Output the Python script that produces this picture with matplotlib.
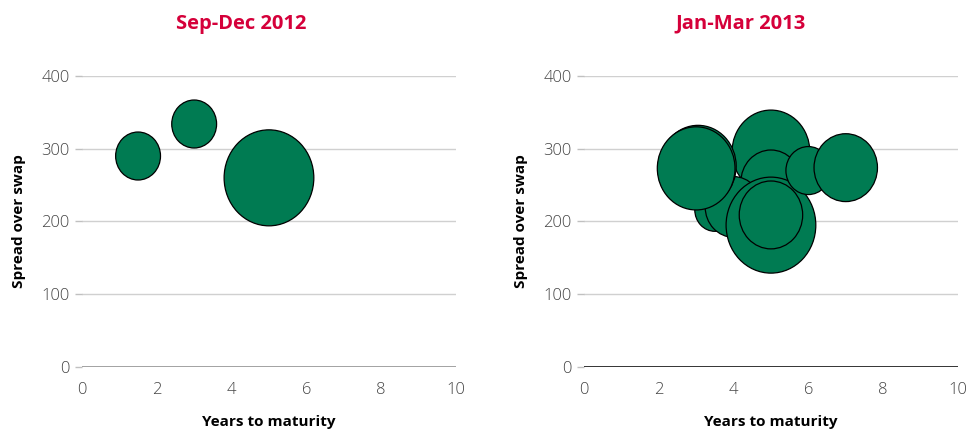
import numpy as np
import matplotlib
matplotlib.use("Agg")
import matplotlib.pyplot as plt
from matplotlib.path import Path
from matplotlib.markers import MarkerStyle

plt.rcParams['font.family'] = ['Open Sans', 'DejaVu Sans']

# Sep-Dec 2012 issues
x_2012 = [1.5, 3.0, 5.0]
y_2012 = [290, 334, 260]
size_2012 = [0.5, 0.5, 2.0]

# Jan-Mar 2013 issues (listed in drawing order)
x_2013 = [5.0, 5.0, 3.5, 4.0, 3.05, 3.0, 5.0, 5.0, 6.0, 7.0]
y_2013 = [296, 254, 216, 220, 276, 273, 195, 209, 270, 274]
size_2013 = [1.5, 0.9, 0.4, 0.8, 1.45, 1.5, 2.0, 1.0, 0.5, 1.0]

titles = ["Sep-Dec 2012", "Jan-Mar 2013"]
x_ticks = [0, 2, 4, 6, 8, 10]
y_ticks = [0, 100, 200, 300, 400]

green = "#007B52"
red = "#D5003A"
grey_text = "#454545"

# slightly tall circle used as bubble marker
circ = Path.unit_circle()
bubble = MarkerStyle(Path(circ.vertices * [1.0, 1.07], circ.codes))

max_r = 48 * 0.72  # radius of biggest bubble in points


def bubble_s(sizes):
    sizes = np.asarray(sizes, dtype=float)
    return (2 * max_r) ** 2 * sizes / sizes.max()


fig = plt.figure(figsize=(9.77, 4.32), dpi=100)
ax1 = fig.add_axes([0.0839, 0.1505, 0.3828, 0.6736])
ax2 = fig.add_axes([0.5977, 0.1505, 0.3828, 0.6736])

data = [(x_2012, y_2012, size_2012), (x_2013, y_2013, size_2013)]
base_colors = ["#8c8c8c", "black"]

for ax, (xs, ys, ss), title, bc in zip([ax1, ax2], data, titles, base_colors):
    ax.scatter(xs, ys, s=bubble_s(ss), marker=bubble, c=green,
               edgecolors="black", linewidths=0.9, zorder=3)
    ax.set_xlim(0, 10)
    ax.set_ylim(0, 400)
    ax.set_xticks(x_ticks)
    ax.set_yticks(y_ticks)
    ax.grid(axis="y", color="#d0d0d0", linewidth=1, zorder=0)
    ax.axhline(0, color=bc, linewidth=1.1, zorder=2)
    for sp in ["top", "right", "left", "bottom"]:
        ax.spines[sp].set_visible(False)
    ax.tick_params(axis="y", length=5, width=1, color="#c0c0c0",
                   labelcolor=grey_text, labelsize=12, pad=4)
    ax.tick_params(axis="x", length=0, labelcolor=grey_text,
                   labelsize=12, pad=11)
    for lab in ax.get_xticklabels() + ax.get_yticklabels():
        lab.set_fontweight("light")
    ax.set_ylabel("Spread over swap", fontsize=11, fontweight="bold",
                  labelpad=11)
    ax.set_xlabel("Years to maturity", fontsize=11, fontweight="bold",
                  labelpad=12)

fig.text(0.2467, 0.945, titles[0], ha="center", va="center",
         fontsize=14.5, fontweight="bold", color=red)
fig.text(0.7585, 0.945, titles[1], ha="center", va="center",
         fontsize=14.5, fontweight="bold", color=red)

fig.savefig("out.png", dpi=100)
